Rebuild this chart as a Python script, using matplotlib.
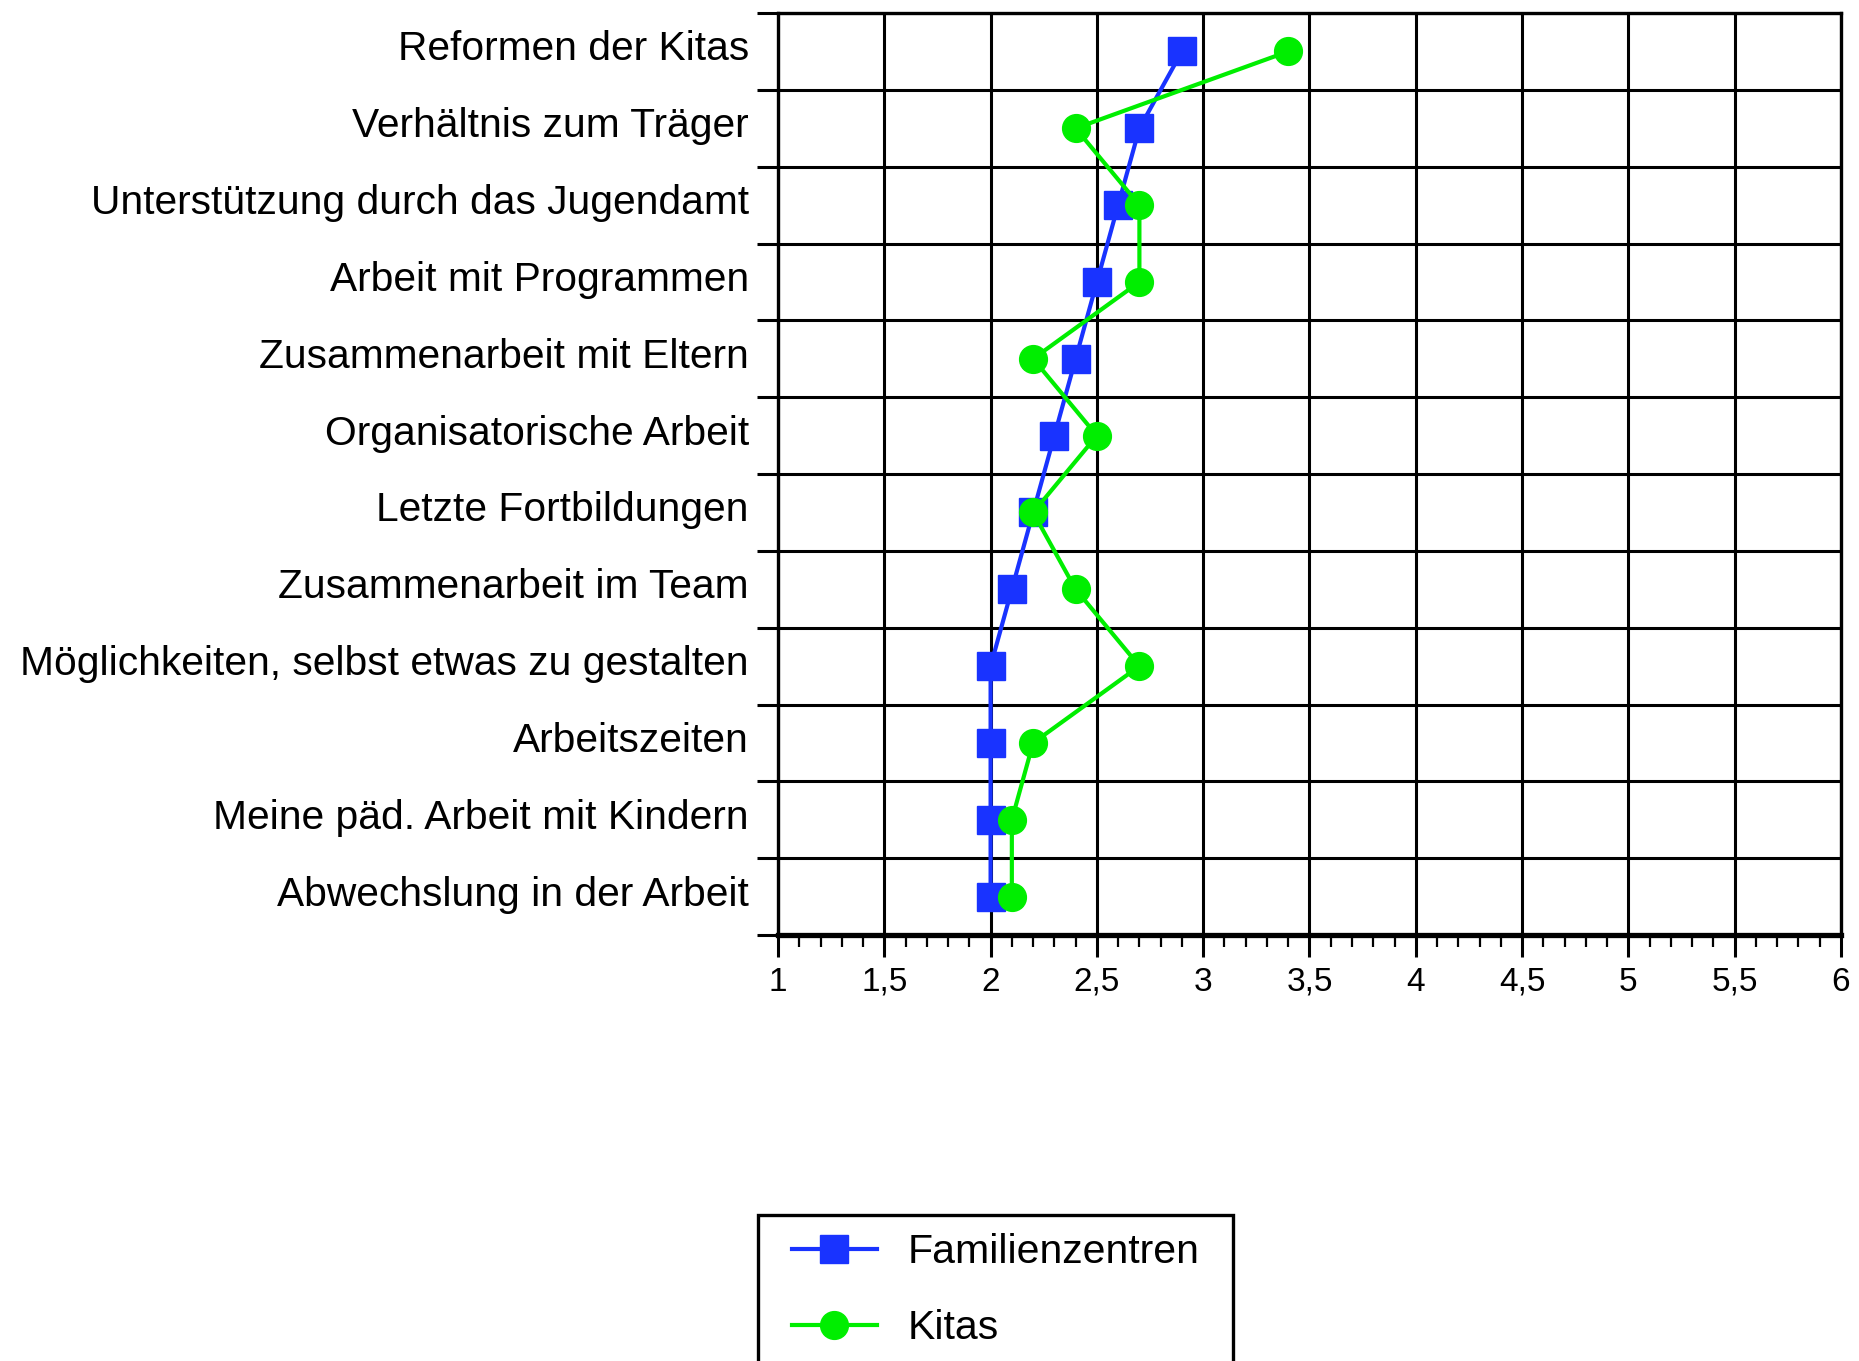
import matplotlib
matplotlib.use("Agg")
import matplotlib.pyplot as plt
from matplotlib.ticker import MultipleLocator, FixedLocator, FuncFormatter
from matplotlib.transforms import ScaledTranslation
from matplotlib.patches import Rectangle

plt.rcParams['font.family'] = ['Liberation Sans', 'DejaVu Sans']

# Data (top to bottom as in the chart)
categories = [
    "Reformen der Kitas",
    "Verhältnis zum Träger",
    "Unterstützung durch das Jugendamt",
    "Arbeit mit Programmen",
    "Zusammenarbeit mit Eltern",
    "Organisatorische Arbeit",
    "Letzte Fortbildungen",
    "Zusammenarbeit im Team",
    "Möglichkeiten, selbst etwas zu gestalten",
    "Arbeitszeiten",
    "Meine päd. Arbeit mit Kindern",
    "Abwechslung in der Arbeit",
]
familienzentren = [2.9, 2.7, 2.6, 2.5, 2.4, 2.3, 2.2, 2.1, 2.0, 2.0, 2.0, 2.0]
kitas = [3.4, 2.4, 2.7, 2.7, 2.2, 2.5, 2.2, 2.4, 2.7, 2.2, 2.1, 2.1]
series_names = ["Familienzentren", "Kitas"]
x_tick_values = [1, 1.5, 2, 2.5, 3, 3.5, 4, 4.5, 5, 5.5, 6]

BLUE = '#1933ff'
GREEN = '#00ee00'

W, H = 1859, 1361
fig = plt.figure(figsize=(W / 100, H / 100), dpi=100)
ax = fig.add_axes([0.4185, 0.3130, 0.9903 - 0.4185, 0.9904 - 0.3130])

n = len(categories)
ypos = [n - 1 - i for i in range(n)]

ax.plot(familienzentren, ypos, color=BLUE, lw=3, marker='s', ms=19.5,
        mec=BLUE, mfc=BLUE, label=series_names[0], zorder=3, clip_on=False)
ax.plot(kitas, ypos, color=GREEN, lw=3, marker='o', ms=20,
        mec=GREEN, mfc=GREEN, label=series_names[1], zorder=4, clip_on=False)

ax.set_xlim(1, 6)
ax.set_ylim(-0.5, n - 0.5)

# x axis
ax.xaxis.set_major_locator(FixedLocator(x_tick_values))
ax.xaxis.set_minor_locator(MultipleLocator(0.1))
ax.xaxis.set_major_formatter(FuncFormatter(lambda v, p: ('%g' % v).replace('.', ',')))
ax.tick_params(axis='x', which='major', length=16, width=2.2, labelsize=24, pad=7, direction='out')
ax.tick_params(axis='x', which='minor', length=8.6, width=1.6, direction='out')

# y axis: major ticks at category boundaries, labels at centers (minor)
boundaries = [i - 0.5 for i in range(n + 1)]
ax.yaxis.set_major_locator(FixedLocator(boundaries))
ax.yaxis.set_major_formatter(FuncFormatter(lambda v, p: ''))
ax.yaxis.set_minor_locator(FixedLocator(ypos))
ax.set_yticklabels(categories, minor=True)
ax.tick_params(axis='y', which='major', length=15, width=2.2, direction='out')
ax.tick_params(axis='y', which='minor', length=0, labelsize=29.3, pad=21)

# small upward shift of category labels
shift = ScaledTranslation(0, 6 / 100, fig.dpi_scale_trans)
for lab in ax.get_yticklabels(minor=True):
    lab.set_transform(lab.get_transform() + shift)

ax.grid(True, which='major', axis='both', color='black', lw=2.2)
ax.set_axisbelow(True)

for s in ['left', 'right', 'top']:
    ax.spines[s].set_linewidth(2.4)
ax.spines['bottom'].set_linewidth(3.8)

# legend (frame drawn separately)
leg = fig.legend(loc='center left', bbox_to_anchor=(792 / W, 1 - 1290 / H),
                 fontsize=29.5, frameon=False,
                 handlelength=2.07, handletextpad=0.75, borderpad=0,
                 labelspacing=0.93, borderaxespad=0)
frame = Rectangle((758 / W, 1 - 1400 / H), (1233 - 758) / W, (1400 - 1215) / H,
                  transform=fig.transFigure, fill=False, edgecolor='black',
                  linewidth=2.4, clip_on=False)
fig.add_artist(frame)

fig.savefig('out.png', dpi=100)
